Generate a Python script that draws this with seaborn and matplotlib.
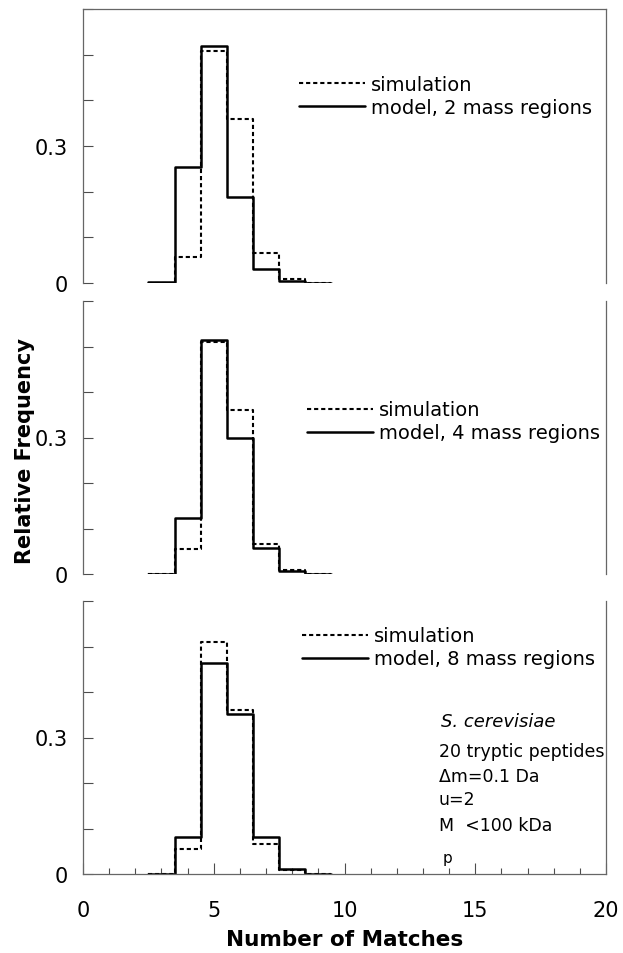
import numpy as np
import pandas as pd
import matplotlib
matplotlib.use("Agg")
import matplotlib.pyplot as plt
from matplotlib.ticker import MultipleLocator
import seaborn as sns

# number of matches (bin centres) and relative frequencies
matches = [3, 4, 5, 6, 7, 8, 9]
simulation = [0.001, 0.056, 0.509, 0.360, 0.065, 0.008, 0.001]
model_2 = [0.002, 0.255, 0.520, 0.188, 0.031, 0.004, 0.001]
model_4 = [0.001, 0.124, 0.515, 0.300, 0.058, 0.007, 0.001]
model_8 = [0.001, 0.082, 0.464, 0.351, 0.082, 0.012, 0.001]
regions = [2, 4, 8]
y_ticklabels = ["0", "", "", "0.3", "", "", ""]
x_ticks = [0, 5, 10, 15, 20]
info_lines = ["20 tryptic peptides", "\u0394m=0.1 Da", "u=2", "M  <100 kDa"]

sns.set_theme(style="white")
plt.rcParams["font.family"] = ["DejaVu Sans"]
plt.rcParams["text.color"] = "black"
plt.rcParams["xtick.labelcolor"] = "black"
plt.rcParams["ytick.labelcolor"] = "black"

W, H = 623, 954
fig = plt.figure(figsize=(W / 100, H / 100), dpi=100)

# panel frames in pixels: (top, zero line)
frames = [(10, 284), (302, 575), (602, 875)]
legend_pos = [(0.413, 0.684), (0.428, 0.559), (0.419, 0.83)]
models = [model_2, model_4, model_8]

axes = []
for i, (top, zero) in enumerate(frames):
    ax = fig.add_axes([83 / W, 1 - zero / H, 523 / W, (zero - top) / H])
    axes.append(ax)
    df = pd.DataFrame({"matches": matches, "sim": simulation, "model": models[i]})
    sns.histplot(data=df, x="matches", weights="sim", binwidth=1, binrange=(2.5, 9.5),
                 element="step", fill=False, color="black", linewidth=1.5,
                 linestyle=(0, (2, 1.4)), ax=ax)
    sns.histplot(data=df, x="matches", weights="model", binwidth=1, binrange=(2.5, 9.5),
                 element="step", fill=False, color="black", linewidth=1.8, ax=ax)
    ax.set_xlim(0, 20)
    ax.set_ylim(0, 0.6)
    ax.set_xlabel("")
    ax.set_ylabel("")

    ax.set_yticks(np.arange(0, 0.61, 0.1))
    ax.set_yticklabels(y_ticklabels)
    ax.tick_params(axis="y", direction="in", length=7, width=0.8, color="0.3",
                   labelsize=15, pad=11, left=True)

    for side in ["left", "right", "top", "bottom"]:
        ax.spines[side].set_color("0.4")
        ax.spines[side].set_linewidth(0.9)
    ax.spines["top"].set_visible(i == 0)
    ax.spines["bottom"].set_visible(i == 2)

    if i < 2:
        ax.tick_params(axis="x", bottom=False, labelbottom=False)
    else:
        ax.set_xticks(x_ticks)
        ax.xaxis.set_minor_locator(MultipleLocator(1))
        ax.tick_params(axis="x", which="major", direction="in", length=8, width=0.8,
                       color="0.3", labelsize=15, pad=19, bottom=True)
        ax.tick_params(axis="x", which="minor", direction="in", length=4.5, width=0.8,
                       color="0.3", bottom=True)

    lx, ly = legend_pos[i]
    ax.legend(ax.lines[:2], ["simulation", f"model, {regions[i]} mass regions"],
              loc="center left", bbox_to_anchor=(lx, ly), frameon=False,
              fontsize=14, handlelength=3.4, handletextpad=0.3,
              labelspacing=0.2, borderpad=0, borderaxespad=0)

# annotation block in the bottom panel
ax = axes[2]
ax.text(13.7, 0.336, "S. cerevisiae", style="italic", fontsize=13, va="center")
for text, yv in zip(info_lines, [0.270, 0.215, 0.165, 0.108]):
    ax.text(13.6, yv, text, fontsize=12.5, va="center")
ax.text(13.75, 0.037, "p", fontsize=11, va="center")

fig.text(25 / W, 1 - 451 / H, "Relative Frequency", rotation=90, ha="center",
         va="center", fontsize=15, fontweight="bold")
fig.text(345 / W, 1 - 940 / H, "Number of Matches", ha="center", va="center",
         fontsize=15.5, fontweight="bold")

fig.savefig("out.png", dpi=100)
